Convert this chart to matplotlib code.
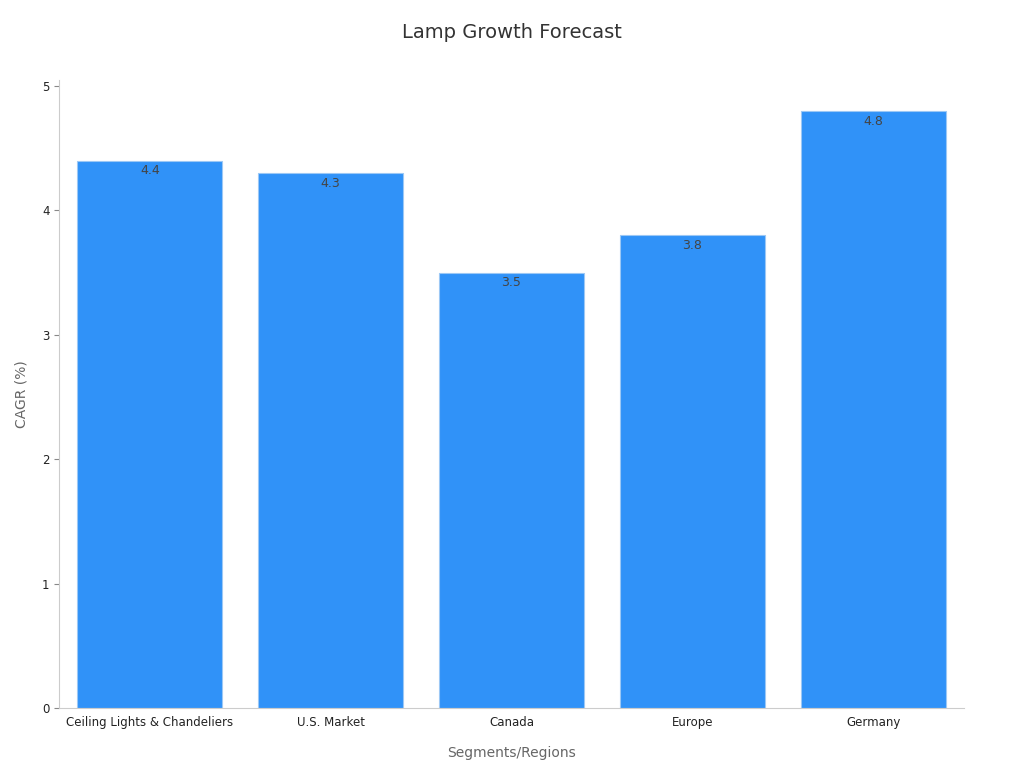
import matplotlib
matplotlib.use("Agg")
import matplotlib.pyplot as plt

categories = ["Ceiling Lights & Chandeliers", "U.S. Market", "Canada", "Europe", "Germany"]
cagr = [4.4, 4.3, 3.5, 3.8, 4.8]

fig = plt.figure(figsize=(10.24, 7.68), dpi=100)
ax = fig.add_axes([0.058, 0.078, 0.883, 0.818])

bars = ax.bar(categories, cagr, width=0.8, color="#3092f8", edgecolor="#9cc8f5", linewidth=0.8)
for b, v in zip(bars, cagr):
    ax.text(b.get_x() + b.get_width() / 2, v - 0.03, f"{v}", ha="center", va="top",
            fontsize=9, color="#444444")

ax.set_xlim(-0.5, 4.5)
ax.set_ylim(0, 5.05)
ax.set_yticks([0, 1, 2, 3, 4, 5])
for s in ["top", "right"]:
    ax.spines[s].set_visible(False)
for s in ["left", "bottom"]:
    ax.spines[s].set_color("#cccccc")
ax.tick_params(labelsize=8.5, colors="#222222")
ax.tick_params(axis="both", color="#888888")
ax.tick_params(axis="x", length=0, pad=6)
ax.set_ylabel("CAGR (%)", fontsize=10, color="#666666", labelpad=10)
ax.set_xlabel("Segments/Regions", fontsize=10, color="#666666", labelpad=12)
fig.suptitle("Lamp Growth Forecast", fontsize=14, color="#333333", y=0.97)

fig.savefig("out.png", dpi=100)
